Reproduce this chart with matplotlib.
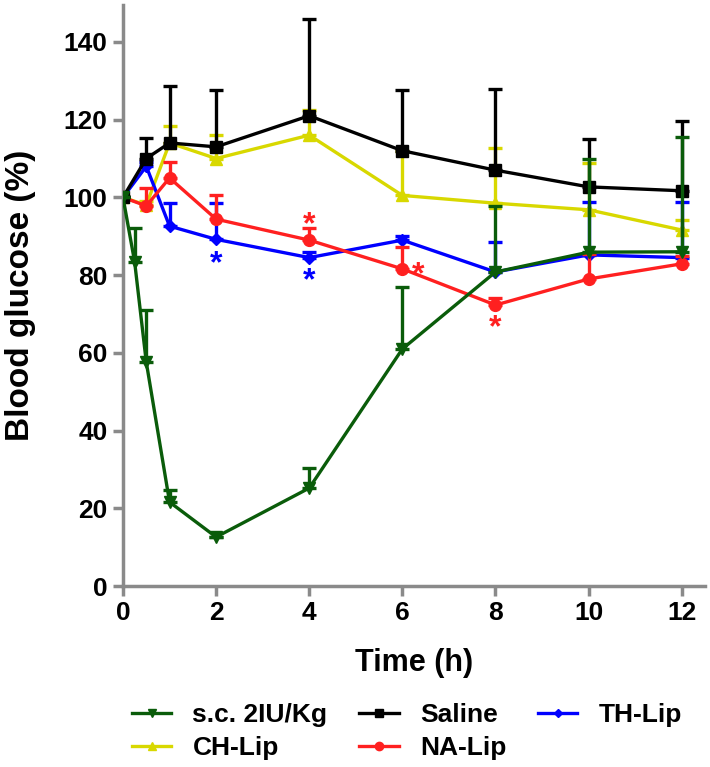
import numpy as np
import matplotlib
matplotlib.use('Agg')
import matplotlib.pyplot as plt
from matplotlib.lines import Line2D

plt.rcParams['font.family'] = ['Liberation Sans', 'DejaVu Sans']
plt.rcParams['font.weight'] = 'bold'

# time points (h)
t_sc = [0, 0.25, 0.5, 1, 2, 4, 6, 8, 10, 12]
t = [0, 0.5, 1, 2, 4, 6, 8, 10, 12]

# mean blood glucose (%) and upper error (SEM)
sc_mean = [100, 83.4, 57.6, 21.6, 12.6, 25.2, 61, 80.8, 85.9, 86]
sc_err = [0, 8.6, 13.4, 3.1, 0, 5.2, 16, 17, 24.1, 29.5]

saline_mean = [100, 110, 114, 113, 121, 112, 107, 102.7, 101.7]
saline_err = [0, 5.3, 14.7, 14.6, 25, 15.6, 21, 12.3, 18]

ch_mean = [100, 98, 114, 110, 116, 100.5, 98.5, 96.8, 91.6]
ch_err = [0, 1, 4.4, 6, 6.5, 11.5, 14.2, 12, 2.6]

na_mean = [100, 97.8, 105, 94.4, 89, 81.6, 72.3, 79, 82.9]
na_err = [0, 4.6, 4, 6.2, 3.2, 5.7, 1.8, 6.5, 2.1]

th_mean = [100, 108, 92.6, 89.2, 84.5, 89, 80.8, 85.2, 84.5]
th_err = [0, 1, 5.9, 9.3, 1.5, 1, 7.7, 13.6, 14.3]

# significance marks
stars_th = [(2, 82.8), (4, 78.4)]
stars_na = [(4, 92.8), (6.35, 79.9), (8, 66.4)]

c_sc = '#0a5c0a'
c_sal = '#000000'
c_ch = '#d8d800'
c_na = '#ff2020'
c_th = '#0000ff'

fig = plt.figure(figsize=(7.1, 7.67), dpi=100)
ax = fig.add_axes([123/710, 1-586/767, (705-123)/710, (586-5)/767])

def draw(x, m, e, color, marker, ms, z):
    m = np.array(m, dtype=float)
    e = np.array(e, dtype=float)
    ax.errorbar(x, m, yerr=[np.zeros_like(e), e], color=color, marker=marker,
                markersize=ms, linewidth=2.4, elinewidth=2.4, capsize=5,
                capthick=2.4, zorder=z)

draw(t, ch_mean, ch_err, c_ch, '^', 8.5, 2)
draw(t, th_mean, th_err, c_th, 'D', 6, 3)
draw(t, na_mean, na_err, c_na, 'o', 8.5, 4)
draw(t, saline_mean, saline_err, c_sal, 's', 8, 5)
draw(t_sc, sc_mean, sc_err, c_sc, 'v', 8.5, 6)

for x, y in stars_th:
    ax.text(x, y, '*', color=c_th, fontsize=23, ha='center', va='center')
for x, y in stars_na:
    ax.text(x, y, '*', color=c_na, fontsize=23, ha='center', va='center')

ax.set_xlim(0, 12.5)
ax.set_ylim(0, 149.5)
ax.set_xticks(range(0, 13, 2))
ax.set_yticks(range(0, 141, 20))
for s in ['top', 'right']:
    ax.spines[s].set_visible(False)
for s in ['left', 'bottom']:
    ax.spines[s].set_color('#8a8a8a')
    ax.spines[s].set_linewidth(2.5)
ax.tick_params(colors='#8a8a8a', width=2.5, length=7, labelsize=19,
               labelcolor='black', pad=4)
ax.set_xlabel('Time (h)', fontsize=22, fontweight='bold', labelpad=16)
ax.set_ylabel('Blood glucose (%)', fontsize=24, fontweight='bold', labelpad=20)

# legend (line + marker, no error bars)
leg_items = [('s.c. 2IU/Kg', c_sc, 'v', 6), ('CH-Lip', c_ch, '^', 6),
             ('Saline', c_sal, 's', 5.5), ('NA-Lip', c_na, 'o', 6),
             ('TH-Lip', c_th, 'D', 4.5)]
hh = [Line2D([], [], color=c, marker=mk, markersize=ms, linewidth=2.4)
      for _, c, mk, ms in leg_items]
fig.legend(hh, [n for n, _, _, _ in leg_items], ncol=3, loc='upper left',
           bbox_to_anchor=(108/710, 1-679/767), frameon=False,
           prop={'size': 19, 'weight': 'bold'}, handlelength=1.5,
           handletextpad=0.8, columnspacing=1.2, labelspacing=0.35)

fig.savefig('out.png', dpi=100)
